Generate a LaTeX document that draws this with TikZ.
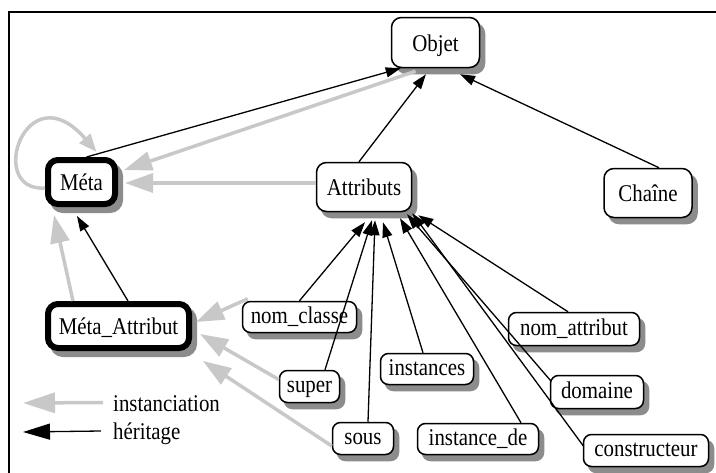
\documentclass[tikz,border=0pt]{standalone}
\usepackage{fontspec}
\setmainfont{Liberation Serif}
\newfontfamily\diagfont[FakeStretch=0.87]{Liberation Serif}
\usetikzlibrary{arrows.meta,calc,shadows}
\definecolor{instgray}{RGB}{200,200,200}
\definecolor{shadowgray}{RGB}{140,140,140}
\begin{document}
\begin{tikzpicture}[x=1pt,y=-1pt,
  lbl/.style={font=\diagfont\fontsize{24pt}{28pt}\selectfont},
  boxshade/.style={general shadow={fill=shadowgray, draw=shadowgray, line width=#1,
      shadow xshift=5pt, shadow yshift=-6pt}},
  box/.style={lbl, draw=black, fill=white, inner sep=0pt, align=center},
  bigbox/.style={box, line width=1.5pt, rounded corners=10pt, boxshade=1.5pt,
      text height=17pt, text depth=0pt},
  metabox/.style={box, line width=6pt, rounded corners=10pt, boxshade=6pt,
      text height=17pt, text depth=0pt},
  smallbox/.style={box, line width=1.5pt, rounded corners=8pt, boxshade=1.5pt,
      text height=17pt, text depth=5pt},
  her/.style={draw=black, line width=1.3pt, -{Triangle[length=15pt,width=10pt]}},
  inst/.style={draw=instgray, line width=3.5pt, -{Triangle[length=28pt,width=19pt]}},
]
\useasboundingbox (0,0) rectangle (716,472);

% frame
\draw[line width=2pt] (9,480) -- (9,12) -- (720,12);

% classes
\node[bigbox, minimum width=88pt, minimum height=50pt] (objet) at (435.5,42.5) {Objet};
\node[bigbox, minimum width=88pt, minimum height=49pt] (chaine) at (648,193) {Chaîne};
\node[bigbox, minimum width=95pt, minimum height=49pt] (attr) at (364,187) {Attributs};
\node[metabox, minimum width=67pt, minimum height=44pt] (meta) at (81.5,182) {Méta};
\node[metabox, minimum width=141pt, minimum height=44pt] (metaattr) at (118.5,326) {Méta\_Attribut};

% attributes
\node[smallbox, minimum width=114pt, minimum height=31pt] (nomclasse) at (299.5,317) {nom\_classe};
\node[smallbox, minimum width=60pt, minimum height=32pt] (super) at (309.5,386.5) {super};
\node[smallbox, minimum width=61pt, minimum height=32pt] (sous) at (363,438.5) {sous};
\node[smallbox, minimum width=93pt, minimum height=31pt] (instances) at (427,369) {instances};
\node[smallbox, minimum width=121pt, minimum height=31pt] (instancede) at (478,439) {instance\_de};
\node[smallbox, minimum width=131pt, minimum height=33pt] (nomattr) at (574,329) {nom\_attribut};
\node[smallbox, minimum width=93pt, minimum height=33pt] (domaine) at (597,392) {domaine};
\node[smallbox, minimum width=125pt, minimum height=32pt] (constr) at (646,450.5) {constructeur};

% instanciation links
\draw[inst] ($(objet.south)+(-20,3)$) -- ($(meta.east)+(6,-12)$);
\draw[inst] ($(attr.west)+(0,-4)$) -- ($(meta.east)+(7,1)$);
\draw[inst] ($(metaattr.north west)+(28,0)$) -- ($(meta.south west)+(9,8)$);
\draw[inst, -{Triangle[length=18pt,width=14pt]}]
  ($(meta.west)+(0,6)$) .. controls +(-60,4) and +(-70,-82) .. ($(meta.north)+(15,-5)$);
\draw[inst] ($(nomclasse.north west)+(6,-2)$) -- ($(metaattr.east)+(4,-4)$);
\draw[inst] ($(super.west)+(0,-7)$) -- ($(metaattr.east)+(8,8)$);
\draw[inst] ($(sous.west)+(0,7.5)$) -- ($(metaattr.south east)+(11,10)$);

% inheritance links
\draw[her] ($(meta.north)+(5,0)$) -- ($(objet.south west)+(10,0)$);
\draw[her] ($(attr.north)+(-5,0)$) -- ($(objet.south)+(-9.5,6)$);
\draw[her] ($(chaine.north)+(11,0)$) -- ($(objet.south)+(24.5,6)$);
\draw[her] ($(metaattr.north)+(9.5,0)$) -- ($(meta.south)+(-4.5,9)$);
\draw[her] (nomclasse.north) -- ($(attr.south)+(1,10)$);
\draw[her] ($(super.north)+(15.5,0)$) -- ($(attr.south)+(8,8)$);
\draw[her] ($(sous.north)+(5,0)$) -- ($(attr.south)+(11,8)$);
\draw[her] ($(instances.north)+(-4,0)$) -- ($(attr.south)+(19,10)$);
\draw[her] ($(instancede.north)+(43,0)$) -- ($(attr.south)+(36,6)$);
\draw[her] ($(domaine.north west)+(1,6)$) -- ($(attr.south)+(43,2)$);
\draw[her] ($(constr.west)+(1,-4)$) -- ($(attr.south east)+(0,1)$);
\draw[her] ($(nomattr.north)+(-6,0)$) -- ($(attr.south east)+(6,3)$);

% legend
\node[lbl, anchor=west, inner xsep=10pt, inner ysep=0pt, text height=17pt, text depth=0pt]
  (leginst) at (103,402.5) {instanciation};
\node[lbl, anchor=west, inner xsep=12pt, inner ysep=0pt, text height=17pt, text depth=0pt]
  (legher) at (101,431) {héritage};
\coordinate (instend) at (23,403);
\coordinate (herend) at (23,432);
\draw[inst, -{Triangle[length=32pt,width=20pt]}] (leginst.west) -- (instend);
\draw[her, -{Triangle[length=27pt,width=16pt]}] (legher.west) -- (herend);
\end{tikzpicture}
\end{document}
